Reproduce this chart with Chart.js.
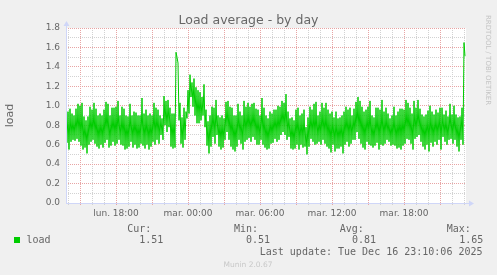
<!DOCTYPE html>
<html>
<head>
<meta charset="utf-8">
<script src="https://cdn.jsdelivr.net/npm/chart.js@4/dist/chart.umd.min.js"></script>
<style>
  html, body { margin: 0; padding: 0; background: #f0f0f0; }
  #chart { display: block; }
</style>
</head>
<body>
<canvas id="chart" width="497" height="275"></canvas>
<script>
// 5-minute samples, Monday 13:50 -> Tuesday 23:05 (400 points)
const startMinutes = 13 * 60 + 50;
const sampleStep = 5;
const loadValues = [
  0.80, 0.62,
  0.94, 0.55, 0.97, 0.63, 0.92, 0.65, 0.90, 0.64, 0.97, 0.66, 1.02, 0.63, 1.00, 0.59, 1.03, 0.55, 0.89, 0.57, 0.85, 0.51,
  0.89, 0.60, 0.99, 0.63, 0.96, 0.65, 1.03, 0.61, 0.97, 0.58, 0.90, 0.56, 0.92, 0.60, 0.90, 0.57, 0.96, 0.62, 1.04, 0.65,
  1.02, 0.57, 0.90, 0.59, 0.98, 0.63, 0.98, 0.59, 0.99, 0.61, 1.05, 0.65, 0.90, 0.60, 0.99, 0.59,
  0.97, 0.55, 0.90, 0.56, 0.89, 0.58, 1.02, 0.63, 0.90, 0.57, 0.94, 0.60, 0.93, 0.56, 0.90, 0.57, 0.90, 0.61, 1.08, 0.59,
  0.92, 0.56, 0.96, 0.60, 0.90, 0.55, 0.92, 0.58, 0.90, 0.63, 1.03, 0.60, 0.98, 0.65, 0.96, 0.61, 0.90, 0.70, 0.87, 0.65,
  1.10, 0.80, 1.05, 0.73, 1.06, 0.78, 0.98, 0.58, 0.92, 0.56, 0.92, 0.57,
  1.55, 1.50, 1.44, 0.85, 1.03, 0.61,
  0.88, 0.57, 0.98, 0.65, 0.94, 0.87, 1.16, 0.92, 1.32, 1.09, 1.24, 0.99, 1.28, 0.90, 1.19, 0.82, 1.16, 0.82, 1.14, 0.85,
  1.09, 0.90, 1.22, 0.78, 0.96, 0.59, 0.84, 0.51, 0.90, 0.58, 0.99, 0.68, 0.98, 0.61, 1.06, 0.70, 0.90, 0.58, 0.88, 0.55,
  0.90, 0.57, 0.87, 0.65, 1.04, 0.73, 1.05, 0.65, 0.99, 0.58, 0.98, 0.55, 0.90, 0.53, 0.90, 0.58, 1.02, 0.65,
  0.94, 0.61, 0.90, 0.55, 1.05, 0.63, 0.99, 0.65, 1.03, 0.67, 0.99, 0.63, 1.02, 0.68, 1.03, 0.65, 0.97, 0.60, 0.96, 0.60,
  0.90, 0.65, 1.08, 0.60, 0.98, 0.57, 0.90, 0.55, 0.87, 0.56, 0.94, 0.61, 0.92, 0.62, 0.96, 0.66, 0.96, 0.63, 1.00, 0.65,
  0.99, 0.70, 1.05, 0.73, 1.03, 0.70, 1.12, 0.65, 0.94, 0.68, 0.87, 0.56, 0.88, 0.55, 0.85, 0.56, 0.96, 0.60,
  0.98, 0.55, 0.90, 0.60, 0.92, 0.57, 0.96, 0.58, 0.78, 0.50, 0.88, 0.58, 0.99, 0.66, 0.96, 0.63, 1.02, 0.60, 1.04, 0.61,
  0.90, 0.63, 0.94, 0.60, 1.03, 0.65, 0.98, 0.61, 1.03, 0.58, 0.96, 0.56, 0.92, 0.52, 0.94, 0.60, 0.88, 0.53, 0.94, 0.56,
  0.87, 0.56, 0.88, 0.58, 0.90, 0.51, 0.94, 0.60, 0.99, 0.63, 0.96, 0.58, 0.98, 0.61, 0.90, 0.65, 0.97, 0.65,
  1.04, 0.73, 1.09, 0.66, 1.05, 0.61, 0.99, 0.57, 0.94, 0.55, 0.96, 0.63, 0.99, 0.60, 1.05, 0.59, 0.90, 0.57, 0.88, 0.59,
  0.98, 0.62, 0.98, 0.55, 0.96, 0.60, 1.06, 0.59, 0.94, 0.61, 0.98, 0.65, 0.92, 0.63, 0.87, 0.59, 0.90, 0.60, 0.99, 0.59,
  0.90, 0.56, 0.94, 0.57, 0.97, 0.55, 0.97, 0.59, 0.96, 0.61, 1.06, 0.66, 1.03, 0.65, 0.98, 0.61, 0.92, 0.55,
  1.05, 0.66, 0.98, 0.68, 1.06, 0.70, 0.97, 0.63, 0.91, 0.58, 0.89, 0.55, 0.91, 0.60, 0.95, 0.53, 1.00, 0.62, 0.94, 0.58,
  0.91, 0.63, 0.96, 0.60, 0.93, 0.65, 0.98, 0.55, 0.98, 0.68, 0.91, 0.63, 0.95, 0.60, 0.89, 0.65, 1.02, 0.66, 0.91, 0.61,
  1.00, 0.65, 0.91, 0.58, 0.88, 0.53, 0.89, 0.65, 0.98, 0.60,
  1.65, 1.51
];

// labelled ticks, minutes after the first sample
const xTickTimes = [250, 610, 970, 1330, 1690];
const xTickLabels = ['lun. 18:00', 'mar. 00:00', 'mar. 06:00', 'mar. 12:00', 'mar. 18:00'];

const statLabels = ['Cur:', 'Min:', 'Avg:', 'Max:'];
const statValues = ['1.51', '0.51', '0.81', '1.65'];

const lineColor = '#00cc00';
const minorGrid = '#d2d2d2';
const majorGrid = '#e8a4a4';
const axisColor = '#cfd6f8';
const textColor = '#666666';

const points = loadValues.map((v, i) => ({ x: i * sampleStep, y: v }));

const munin = {
  id: 'munin',
  beforeDraw(chart) {
    const { ctx, chartArea: a } = chart;
    ctx.save();
    ctx.fillStyle = '#ffffff';
    ctx.fillRect(a.left, a.top, a.right - a.left, a.bottom - a.top);
    ctx.restore();
  },
  afterDatasetsDraw(chart) {
    const { ctx, chartArea: a } = chart;
    ctx.save();
    ctx.strokeStyle = axisColor;
    ctx.fillStyle = axisColor;
    ctx.lineWidth = 1;
    // x axis with arrow
    ctx.beginPath();
    ctx.moveTo(a.left, a.bottom + 0.5);
    ctx.lineTo(a.right + 4, a.bottom + 0.5);
    ctx.stroke();
    ctx.beginPath();
    ctx.moveTo(a.right + 8, a.bottom + 0.5);
    ctx.lineTo(a.right + 3, a.bottom - 2.5);
    ctx.lineTo(a.right + 3, a.bottom + 3.5);
    ctx.fill();
    // y axis with arrow
    ctx.beginPath();
    ctx.moveTo(a.left + 0.5, a.bottom + 1);
    ctx.lineTo(a.left + 0.5, a.top - 3);
    ctx.stroke();
    ctx.beginPath();
    ctx.moveTo(a.left + 0.5, a.top - 7);
    ctx.lineTo(a.left - 2.5, a.top - 2);
    ctx.lineTo(a.left + 3.5, a.top - 2);
    ctx.fill();
    ctx.restore();
  },
  afterDraw(chart) {
    const { ctx, chartArea: a } = chart;
    ctx.save();
    ctx.fillStyle = textColor;
    ctx.textBaseline = 'alphabetic';

    ctx.font = '12.5px "DejaVu Sans"';
    ctx.textAlign = 'center';
    ctx.fillText('Load average - by day', 248.5, 24);

    ctx.save();
    ctx.translate(10, (a.top + a.bottom) / 2);
    ctx.rotate(-Math.PI / 2);
    ctx.font = '11px "DejaVu Sans"';
    ctx.textBaseline = 'middle';
    ctx.fillText('load', 0, 0);
    ctx.restore();

    ctx.save();
    ctx.translate(488, 15);
    ctx.rotate(Math.PI / 2);
    ctx.font = '7px "DejaVu Sans"';
    ctx.fillStyle = '#c4c4c4';
    ctx.textAlign = 'left';
    ctx.textBaseline = 'middle';
    ctx.fillText('RRDTOOL / TOBI OETIKER', 0, 0);
    ctx.restore();

    // legend
    ctx.fillStyle = lineColor;
    ctx.fillRect(14, 237, 6, 6);
    ctx.fillStyle = textColor;
    ctx.font = '10px "DejaVu Sans Mono"';
    ctx.textAlign = 'left';
    ctx.fillText('load', 26.5, 243);
    const headX = [127.3, 234, 339.7, 446.7];
    const valX = [139.3, 246, 352, 459.3];
    statLabels.forEach((s, i) => ctx.fillText(s, headX[i], 232));
    statValues.forEach((s, i) => ctx.fillText(s, valX[i], 243));
    ctx.textAlign = 'right';
    ctx.fillText('Last update: Tue Dec 16 23:10:06 2025', 482.5, 255);

    ctx.font = '7.5px "DejaVu Sans"';
    ctx.fillStyle = '#c8c8c8';
    ctx.textAlign = 'center';
    ctx.fillText('Munin 2.0.67', 248, 266.5);
    ctx.restore();
  }
};

new Chart(document.getElementById('chart'), {
  type: 'line',
  data: {
    datasets: [{
      label: 'load',
      data: points,
      borderColor: lineColor,
      borderWidth: 1,
      pointRadius: 0,
      tension: 0,
      fill: false
    }]
  },
  options: {
    responsive: false,
    animation: false,
    events: [],
    devicePixelRatio: 1,
    layout: { padding: { left: 0, top: 28, right: 31, bottom: 52 } },
    plugins: { legend: { display: false }, tooltip: { enabled: false } },
    scales: {
      x: {
        type: 'linear',
        min: 0,
        max: 2000,
        afterFit(scale) { scale.height = 20; },
        afterBuildTicks(scale) {
          const ticks = [];
          for (let t = 60 - (startMinutes % 60); t <= 2000; t += 60) ticks.push({ value: t });
          scale.ticks = ticks;
        },
        border: { display: false, dash: [1, 1] },
        grid: {
          color(ctx) {
            const hour = Math.round((startMinutes + ctx.tick.value) / 60) % 24;
            return hour % 3 === 0 ? majorGrid : minorGrid;
          },
          lineWidth: 1,
          drawTicks: true,
          tickLength: 2
        },
        ticks: {
          autoSkip: false,
          maxRotation: 0,
          padding: 3,
          color: textColor,
          font: { family: 'DejaVu Sans', size: 9 },
          callback(value) {
            const k = xTickTimes.indexOf(value);
            return k >= 0 ? xTickLabels[k] : '';
          }
        }
      },
      y: {
        min: 0,
        max: 1.8,
        afterFit(scale) { scale.width = 66; },
        border: { display: false, dash: [1, 1] },
        grid: {
          color(ctx) {
            return Math.round(ctx.tick.value * 10) % 2 === 0 ? majorGrid : minorGrid;
          },
          lineWidth: 1,
          drawTicks: false
        },
        ticks: {
          stepSize: 0.1,
          autoSkip: false,
          padding: 6,
          color: textColor,
          font: { family: 'DejaVu Sans', size: 9 },
          callback(value) {
            return Math.round(value * 10) % 2 === 0 ? value.toFixed(1) : '';
          }
        }
      }
    }
  },
  plugins: [munin]
});
</script>
</body>
</html>
